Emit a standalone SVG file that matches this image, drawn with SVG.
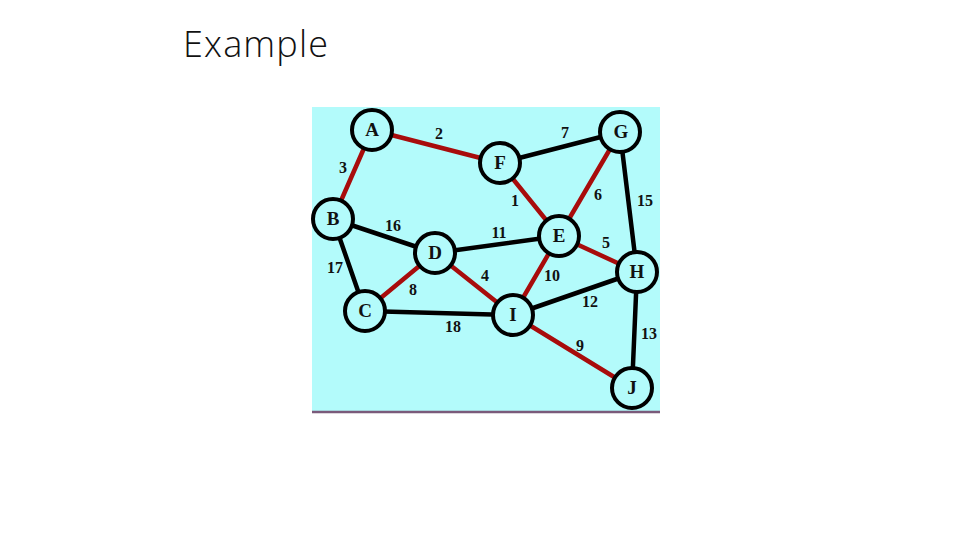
<svg xmlns="http://www.w3.org/2000/svg" width="960" height="540" viewBox="0 0 960 540">
<style>
.e{stroke:#000;stroke-width:4.5;stroke-linecap:round}
.r{stroke:#a80c0c;stroke-width:4.5;stroke-linecap:round}
.n circle{fill:#b3fbfb;stroke:#000;stroke-width:4}
.n text{font-family:"Liberation Serif",serif;font-weight:bold;font-size:19px;text-anchor:middle;fill:#111}
.w{font-family:"Liberation Serif",serif;font-weight:bold;font-size:16px;text-anchor:middle;fill:#111}
</style>
<rect width="960" height="540" fill="#fff"/>
<text x="183" y="57" font-family="Open Sans, Liberation Sans, sans-serif" font-weight="300" font-size="36" textLength="145" fill="#111">Example</text>
<rect x="312" y="107" width="348" height="305" fill="#b3fbfb"/>
<line x1="312" y1="412" x2="660" y2="412" stroke="#7a5a7a" stroke-width="2.5"/>
<g id="connectors">
<line class="r" x1="372" y1="130" x2="500" y2="163"/>
<line class="r" x1="372" y1="130" x2="333" y2="219"/>
<line class="e" x1="500" y1="163" x2="620" y2="132"/>
<line class="r" x1="500" y1="163" x2="559" y2="236"/>
<line class="r" x1="620" y1="132" x2="559" y2="236"/>
<line class="e" x1="620" y1="132" x2="637" y2="272"/>
<line class="e" x1="333" y1="219" x2="435" y2="253"/>
<line class="e" x1="333" y1="219" x2="365" y2="311"/>
<line class="e" x1="435" y1="253" x2="559" y2="236"/>
<line class="r" x1="559" y1="236" x2="637" y2="272"/>
<line class="r" x1="435" y1="253" x2="365" y2="311"/>
<line class="r" x1="435" y1="253" x2="513" y2="315"/>
<line class="r" x1="559" y1="236" x2="513" y2="315"/>
<line class="e" x1="513" y1="315" x2="637" y2="272"/>
<line class="e" x1="365" y1="311" x2="513" y2="315"/>
<line class="r" x1="513" y1="315" x2="632" y2="388"/>
<line class="e" x1="637" y1="272" x2="632" y2="388"/>
</g>
<g id="weights">
<text class="w" x="439" y="139">2</text>
<text class="w" x="565" y="138">7</text>
<text class="w" x="343" y="173">3</text>
<text class="w" x="515" y="206">1</text>
<text class="w" x="598" y="200">6</text>
<text class="w" x="645" y="206">15</text>
<text class="w" x="393" y="231">16</text>
<text class="w" x="499" y="238">11</text>
<text class="w" x="606" y="248">5</text>
<text class="w" x="335" y="273">17</text>
<text class="w" x="413" y="295">8</text>
<text class="w" x="485" y="281">4</text>
<text class="w" x="552" y="281">10</text>
<text class="w" x="590" y="307">12</text>
<text class="w" x="649" y="339">13</text>
<text class="w" x="453" y="332">18</text>
<text class="w" x="580" y="351">9</text>
</g>
<g id="A" class="n"><circle cx="372" cy="130" r="20"/><text x="372" y="136">A</text></g>
<g id="F" class="n"><circle cx="500" cy="163" r="20"/><text x="500" y="169">F</text></g>
<g id="G" class="n"><circle cx="620" cy="132" r="20"/><text x="621" y="138">G</text></g>
<g id="B" class="n"><circle cx="333" cy="219" r="20"/><text x="333" y="225">B</text></g>
<g id="D" class="n"><circle cx="435" cy="253" r="20"/><text x="435" y="259">D</text></g>
<g id="E" class="n"><circle cx="559" cy="236" r="20"/><text x="559" y="242">E</text></g>
<g id="H" class="n"><circle cx="637" cy="272" r="20"/><text x="637" y="278">H</text></g>
<g id="C" class="n"><circle cx="365" cy="311" r="20"/><text x="365" y="317">C</text></g>
<g id="I" class="n"><circle cx="513" cy="315" r="20"/><text x="513" y="321">I</text></g>
<g id="J" class="n"><circle cx="632" cy="388" r="20"/><text x="632" y="394">J</text></g>
</svg>
